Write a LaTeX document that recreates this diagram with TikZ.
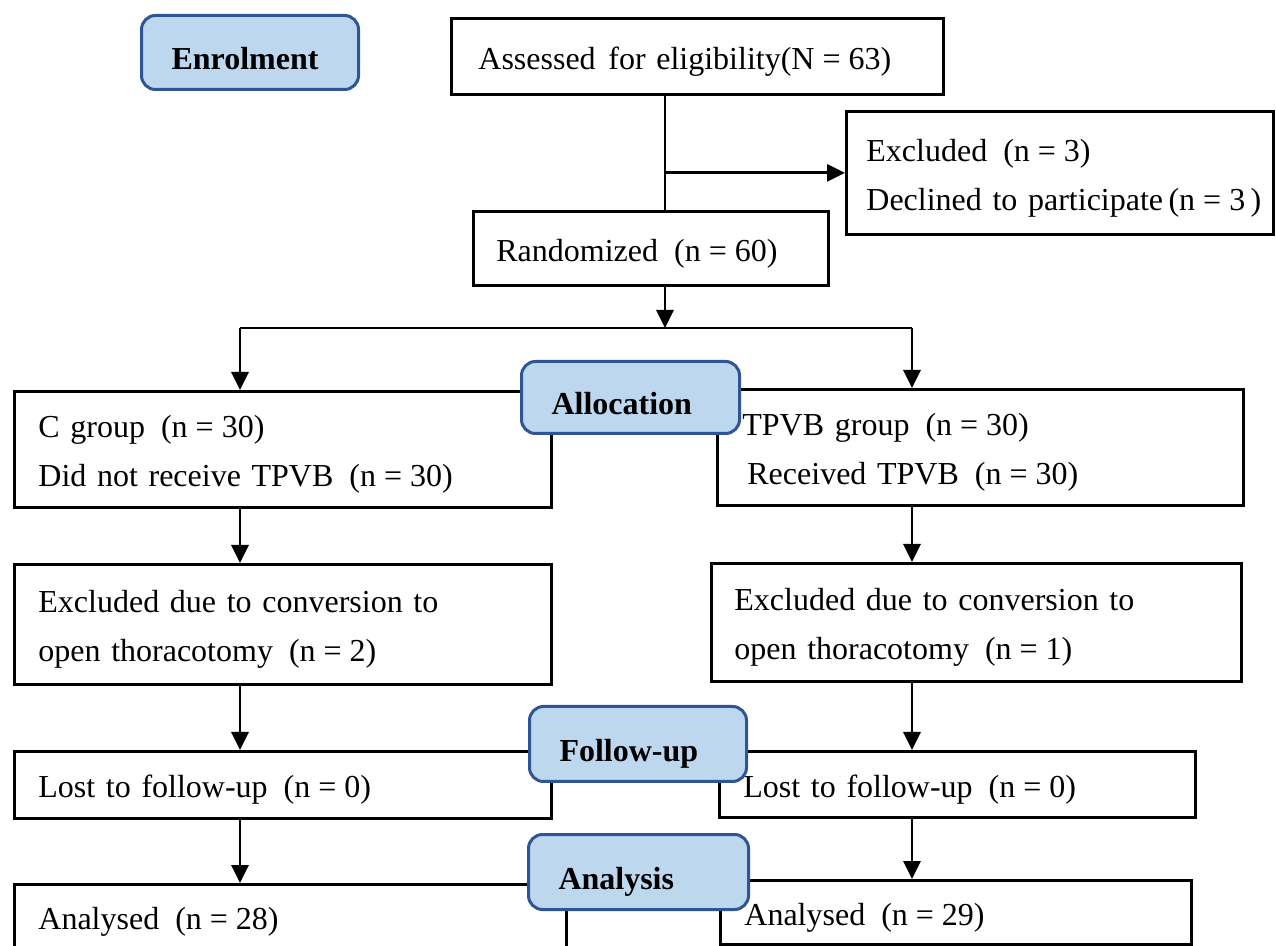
\documentclass[tikz,border=0pt]{standalone}
\usepackage{fontspec}
\setmainfont{Liberation Serif}
\usetikzlibrary{arrows.meta}
\definecolor{stagefill}{RGB}{189,215,238}
\definecolor{stageline}{RGB}{47,85,151}
\newcommand{\cnt}[2][n]{#1\hspace{4pt}=\hspace{4pt}#2}
\begin{document}
\begin{tikzpicture}  % ------ Flow of patients through the trial -----------
      [x=0.5pt,y=-0.5pt,
       every node/.style={font=\fontsize{16}{24.5}\selectfont},
       box/.style={draw,line width=1.4pt,anchor=north west,align=left,inner ysep=0pt,
         execute at begin node={\rule{0pt}{16.5pt}}},
       stage/.style={draw=stageline,fill=stagefill,line width=1.5pt,rounded corners=7pt,
         anchor=north west,align=left,inner xsep=15pt,inner ysep=0pt,
         text height=17.5pt,text depth=0pt,font=\fontsize{16}{20}\selectfont\bfseries},
       link/.style={line width=1.4pt},
       flow/.style={link,-{Triangle[length=9pt,width=8.5pt]}}]
    \clip (0,0) rectangle (1276,946);
    \coordinate (mcol) at (665,0);   % trunk
    \coordinate (lcol) at (240,0);   % C group column
    \coordinate (rcol) at (912,0);   % TPVB column
    \coordinate (split) at (665,328);
    % enrolment
    \node[box,inner xsep=13.5pt,text width=219pt,minimum height=38pt] (assess) at (450,17)
        {Assessed\hspace{1pt} for eligibility(\cnt[N]{63})};
    \node[box,inner xsep=10pt,text width=193.5pt,minimum height=61.5pt] (excl) at (845,110)
        {Excluded\hspace{8pt}(\cnt{3})\\\mbox{Declined to participate\,(\cnt{3}\,)}};
    \node[box,inner xsep=11.5pt,text width=154.5pt,minimum height=37pt] (rand) at (472,210)
        {Randomized\hspace{8pt}(\cnt{60})};
    % allocation
    \node[box,inner xsep=12pt,text width=244.5pt,minimum height=58pt] (cgrp) at (13,390)
        {C group\hspace{8pt}(\cnt{30})\\Did not receive TPVB\hspace{8pt}(\cnt{30})};
    \node[box,inner xsep=12.5pt,text width=238pt,minimum height=58pt] (tgrp) at (716,388)
        {TPVB group\hspace{8pt}(\cnt{30})\\\hspace*{2.5pt}Received TPVB\hspace{8pt}(\cnt{30})};
    \node[box,inner xsep=12pt,text width=244.5pt,minimum height=60pt] (lexc) at (13,563)
        {Excluded due to conversion to\\open thoracotomy\hspace{8pt}(\cnt{2})};
    \node[box,inner xsep=11.5pt,text width=242pt,minimum height=59pt] (rexc) at (710,562)
        {Excluded due to conversion to\\open thoracotomy\hspace{8pt}(\cnt{1})};
    % follow-up
    \node[box,inner xsep=12pt,text width=244.5pt,minimum height=33.5pt] (llost) at (13,750)
        {Lost to follow-up\hspace{8pt}(\cnt{0})};
    \node[box,inner xsep=12pt,text width=214pt,minimum height=33pt] (rlost) at (718,750)
        {Lost to follow-up\hspace{8pt}(\cnt{0})};
    % analysis
    \node[box,inner xsep=12pt,text width=252pt,minimum height=32pt] (lana) at (13,883)
        {Analysed\hspace{8pt}(\cnt{28})};
    \node[box,inner xsep=12pt,text width=211.5pt,minimum height=32pt] (rana) at (719,879)
        {Analysed\hspace{8pt}(\cnt{29})};
    % connectors
    \draw[link] (assess.south -| mcol) -- (rand.north -| mcol);
    \draw[flow] (mcol |- excl.west) -- (excl.west);
    \draw[flow] (rand.south -| mcol) -- (split);
    \draw[link] (lcol |- split) -- (rcol |- split);
    \draw[flow] (lcol |- split) -- (cgrp.north -| lcol);
    \draw[flow] (rcol |- split) -- (tgrp.north -| rcol);
    \draw[flow] (cgrp.south -| lcol) -- (lexc.north -| lcol);
    \draw[flow] (tgrp.south -| rcol) -- (rexc.north -| rcol);
    \draw[flow] (lexc.south -| lcol) -- (llost.north -| lcol);
    \draw[flow] (rexc.south -| rcol) -- (rlost.north -| rcol);
    \draw[flow] (llost.south -| lcol) -- (lana.north -| lcol);
    \draw[flow] (rlost.south -| rcol) -- (rana.north -| rcol);
    % stage labels
    \node[stage,text width=78.5pt,minimum height=37pt] (enrol) at (140,14) {Enrolment};
    \node[stage,text width=79pt,minimum height=36pt] (alloc) at (520,360) {Allocation};
    \node[stage,text width=78.5pt,minimum height=37.5pt] (follow) at (528,705) {Follow-up};
    \node[stage,text width=80pt,minimum height=37.5pt] (analys) at (527,833) {Analysis};
\end{tikzpicture}
\end{document}
